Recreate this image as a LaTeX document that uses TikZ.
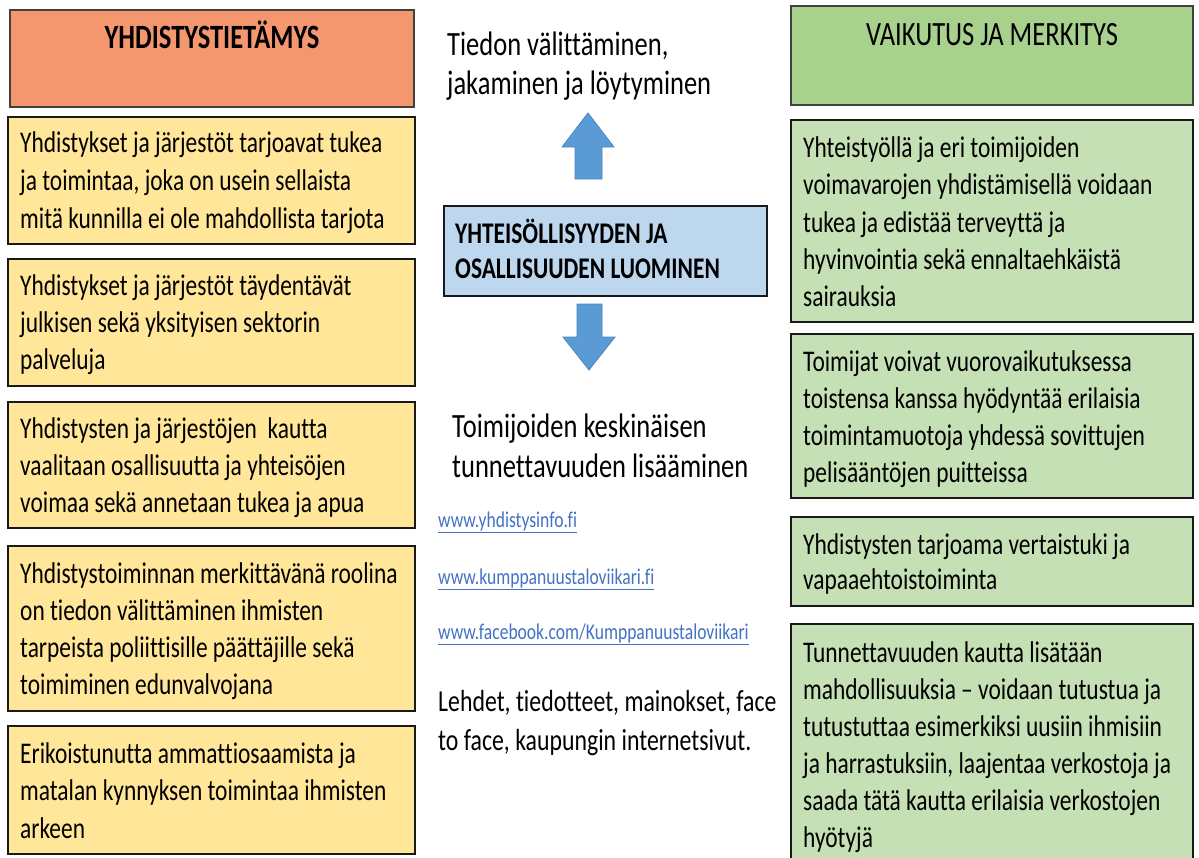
\documentclass[tikz,border=0pt]{standalone}
\usepackage{fontspec}
\setmainfont{Carlito}[FakeStretch=0.78, Ligatures=NoCommon]
\definecolor{hdrorange}{HTML}{F4966E}
\definecolor{ylw}{HTML}{FFE699}
\definecolor{hdrgreen}{HTML}{A9D18E}
\definecolor{grn}{HTML}{C5E0B4}
\definecolor{cblue}{HTML}{BDD7EE}
\definecolor{arrowblue}{HTML}{5B9BD5}
\definecolor{arrowedge}{HTML}{4A86BF}
\definecolor{linkblue}{HTML}{4472C4}
\tikzset{
  box/.style={draw=black!90, line width=2.2pt, inner sep=0pt},
  ybox/.style={box, fill=ylw, minimum width=407pt},
  gbox/.style={box, fill=grn, minimum width=402pt},
  hdrbox/.style={draw=black!75, line width=1.6pt, inner sep=0pt},
  hdrtext/.style={anchor=base, inner sep=0pt, font=\fontsize{34}{37}\selectfont},
  cbox/.style={draw=black!90, line width=2pt, fill=cblue, inner sep=0pt,
    minimum width=323pt, minimum height=90pt},
  freetext/.style={anchor=base west, align=left, inner sep=0pt},
  btext/.style={freetext, font=\fontsize{30}{37}\selectfont},
  urltext/.style={freetext, text=linkblue, font=\fontsize{22.5}{26}\selectfont},
  blockarrow/.style={fill=arrowblue, draw=arrowedge, line width=0.8pt, line join=miter}
}
\begin{document}
\begin{tikzpicture}[x=1pt,y=-1pt]
\useasboundingbox (0,0) rectangle (1199,857);
\fill[white] (0,0) rectangle (1199,857);

% left column
\node[hdrbox, fill=hdrorange, minimum width=404pt, minimum height=97pt] (hL) at (212,58.5) {};
\node[hdrtext, font=\bfseries\fontsize{34}{37}\selectfont] (hLt) at (212,48) {YHDISTYSTIETÄMYS};

\node[ybox, minimum height=127pt] (L1) at (211.5,180.5) {};
\node[btext, font=\fontsize{30}{38}\selectfont] (L1t) at (20,228)
  {Yhdistykset ja järjestöt tarjoavat tukea\\ja toimintaa, joka on usein sellaista\\mitä kunnilla ei ole mahdollista tarjota};
\node[ybox, minimum height=127pt] (L2) at (211.5,322.5) {};
\node[btext] (L2t) at (20,369)
  {Yhdistykset ja järjestöt täydentävät\\julkisen sekä yksityisen sektorin\\palveluja};
\node[ybox, minimum height=126pt] (L3) at (211.5,465) {};
\node[btext] (L3t) at (20,512.5)
  {Yhdistysten ja järjestöjen\ \ kautta\\vaalitaan osallisuutta ja yhteisöjen\\voimaa sekä annetaan tukea ja apua};
\node[ybox, minimum height=165pt] (L4) at (211.5,628.5) {};
\node[btext] (L4t) at (20,694.5)
  {Yhdistystoiminnan merkittävänä roolina\\on tiedon välittäminen ihmisten\\tarpeista poliittisille päättäjille sekä\\toimiminen edunvalvojana};
\node[ybox, minimum height=128pt] (L5) at (211.5,790) {};
\node[btext, font=\fontsize{30}{37.5}\selectfont] (L5t) at (20,838)
  {Erikoistunutta ammattiosaamista ja\\matalan kynnyksen toimintaa ihmisten\\arkeen};

% right column
\node[hdrbox, fill=hdrgreen, minimum width=402pt, minimum height=99pt] (hR) at (992,55.5) {};
\node[hdrtext] (hRt) at (992,45) {VAIKUTUS JA MERKITYS};

\node[gbox, minimum height=202pt] (R1) at (992,221) {};
\node[btext, font=\fontsize{30}{37.2}\selectfont] (R1t) at (803,306.5)
  {Yhteistyöllä ja eri toimijoiden\\voimavarojen yhdistämisellä voidaan\\tukea ja edistää terveyttä ja\\hyvinvointia sekä ennaltaehkäistä\\sairauksia};
\node[gbox, minimum height=164pt] (R2) at (992,416) {};
\node[btext] (R2t) at (803,482.5)
  {Toimijat voivat vuorovaikutuksessa\\toistensa kanssa hyödyntää erilaisia\\toimintamuotoja yhdessä sovittujen\\pelisääntöjen puitteissa};
\node[gbox, minimum height=89pt] (R3) at (992,561.5) {};
\node[btext, font=\fontsize{30}{35.5}\selectfont] (R3t) at (803,589.5)
  {Yhdistysten tarjoama vertaistuki ja\\vapaaehtoistoiminta};
\node[gbox, minimum height=250pt, anchor=north] (R4) at (992,623) {};
\node[btext] (R4t) at (803,847)
  {Tunnettavuuden kautta lisätään\\mahdollisuuksia – voidaan tutustua ja\\tutustuttaa esimerkiksi uusiin ihmisiin\\ja harrastuksiin, laajentaa verkostoja ja\\saada tätä kautta erilaisia verkostojen\\hyötyjä};

% centre column
\node[freetext, font=\fontsize{34}{39}\selectfont] (t1) at (447,94)
  {Tiedon välittäminen,\\jakaminen ja löytyminen};
\node[cbox] (c) at (605.5,251) {};
\node[freetext, font=\bfseries\fontsize{30}{35}\selectfont] (ct) at (455,278)
  {YHTEISÖLLISYYDEN JA\\OSALLISUUDEN LUOMINEN};
\node[freetext, font=\fontsize{34}{40}\selectfont] (t2) at (452,477)
  {Toimijoiden keskinäisen\\tunnettavuuden lisääminen};
\node[urltext] (u1) at (438,527) {\underline{www.yhdistysinfo.fi}};
\node[urltext] (u2) at (438,584) {\underline{www.kumppanuustaloviikari.fi}};
\node[urltext] (u3) at (438,639) {\underline{www.facebook.com/Kumppanuustaloviikari}};
\node[freetext, font=\fontsize{30.5}{39.5}\selectfont] (t3) at (438,750.5)
  {Lehdet, tiedotteet, mainokset, face\\to face, kaupungin internetsivut.};

% block arrows
\draw[blockarrow] (588,113) -- (614,147) -- (602,147) -- (602,179) -- (575,179)
  -- (575,147) -- (562,147) -- cycle;
\draw[blockarrow] (577,304) -- (602,304) -- (602,337) -- (615,337) -- (589,370)
  -- (563,337) -- (577,337) -- cycle;
\end{tikzpicture}
\end{document}
